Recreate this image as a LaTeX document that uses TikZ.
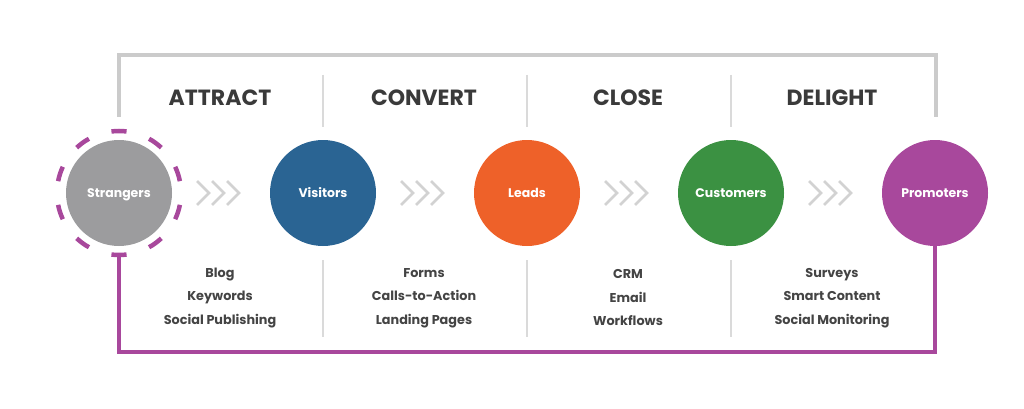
\documentclass[tikz,border=0pt]{standalone}
\usepackage{fontspec}
\setmainfont{Poppins}
\definecolor{cgray}{HTML}{9C9C9E}
\definecolor{cblue}{HTML}{2A6493}
\definecolor{corange}{HTML}{EE6129}
\definecolor{cgreen}{HTML}{3B9142}
\definecolor{cpurple}{HTML}{A8489C}
\definecolor{bracket}{HTML}{CBCBCB}
\definecolor{sep}{HTML}{DADADA}
\definecolor{chev}{HTML}{D2D2D2}
\definecolor{txt}{HTML}{3A3A3A}
\definecolor{listtxt}{HTML}{444444}
\begin{document}
\begin{tikzpicture}[x=1pt,y=-1pt,
  stage/.style={circle,minimum size=106pt,inner sep=0pt,text=white,text height=8.7pt,text depth=0pt,font=\fontsize{12.5}{14}\selectfont\bfseries},
  head/.style={text=txt,font=\fontsize{22}{26}\selectfont\bfseries},
  tools/.style={text=listtxt,align=center,font=\fontsize{12.8}{23.5}\selectfont\bfseries},
  sepline/.style={draw=sep,line width=1.5pt},
  chevline/.style={draw=chev,line width=2.6pt},
  ringdash/.style={draw=cpurple,line width=4.5pt},
  loopline/.style={draw=cpurple,line width=4.2pt},
  bracketline/.style={draw=bracket,line width=4.8pt}]
\useasboundingbox (0,0) rectangle (1024,409);
% top bracket
\coordinate (bl) at (119,117);
\coordinate (br) at (936,117);
\draw[bracketline,line join=miter] (bl) -- (bl |- 0,55) -- (br |- 0,55) -- (br);
% stages
\node[stage,fill=cgray] (s) at (119,193) {Strangers};
\node[stage,fill=cblue] (v) at (323,193) {Visitors};
\node[stage,fill=corange] (l) at (527,193) {Leads};
\node[stage,fill=cgreen] (c) at (731,193) {Customers};
\node[stage,fill=cpurple] (p) at (935,193) {Promoters};
% dashed ring round Strangers
\foreach \a in {90,126,...,414} {
  \draw[ringdash] ([shift={(\a-7:62pt)}]s.center) arc[start angle=\a-7,end angle=\a+7,radius=62pt];
}
\path (s.center) ++(0,62) coordinate (ringbot);
% headings
\node[head] (h1) at (220,98) {ATTRACT};
\node[head] (h2) at (424,98) {CONVERT};
\node[head] (h3) at (628,98) {CLOSE};
\node[head] (h4) at (832,98) {DELIGHT};
% tool lists
\node[tools] (t1) at (220,298) {Blog\\Keywords\\Social Publishing};
\node[tools] (t2) at (424,298) {Forms\\Calls-to-Action\\Landing Pages};
\node[tools] (t3) at (628,298) {CRM\\Email\\Workflows};
\node[tools] (t4) at (832,298) {Surveys\\Smart Content\\Social Monitoring};
% separators
\foreach \x in {323,527,731} {
  \draw[sepline] (\x,75) -- (\x,127);
  \draw[sepline] (\x,260) -- (\x,337);
}
% bottom loop
\draw[loopline,line join=miter] (ringbot) -- (ringbot |- 0,352) -- (p.south |- 0,352) -- (p.south);
% chevrons
\foreach \m in {221,425,629,833} {
  \foreach \k in {-1,0,1} {
    \draw[chevline] (\m-9+\k*15,181) -- (\m+3+\k*15,193) -- (\m-9+\k*15,205);
  }
}
\end{tikzpicture}
\end{document}
